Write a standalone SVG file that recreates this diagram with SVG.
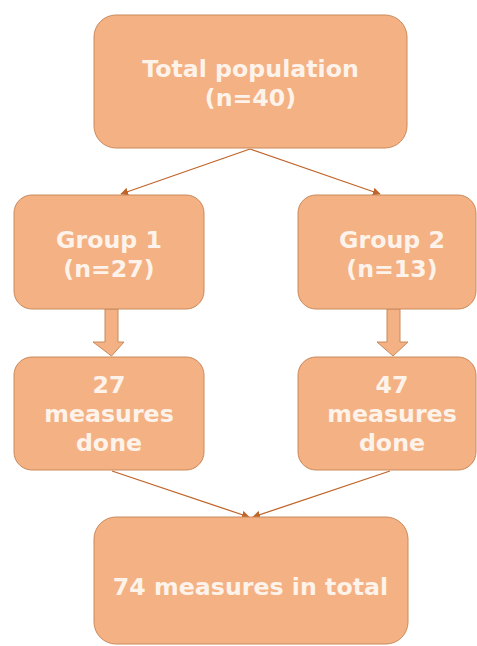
<svg xmlns="http://www.w3.org/2000/svg" width="477" height="646" viewBox="0 0 477 646">
<defs>
<style>
.box{fill:#f4b183;stroke:#c98a5a;stroke-width:1}
.t{font-family:"DejaVu Sans",Verdana,sans-serif;font-weight:bold;font-size:23.7px;fill:#fdf3ea;text-anchor:middle}
.c{stroke:#c0652a;stroke-width:1.3;fill:none;marker-end:url(#ah)}
.fat{fill:#f4b183;stroke:#c98a5a;stroke-width:1}
</style>
<marker id="ah" viewBox="0 0 10 10" refX="9" refY="5" markerWidth="8" markerHeight="8" orient="auto" markerUnits="userSpaceOnUse">
<path d="M0,0 L10,5 L0,10 z" fill="#c0652a"/>
</marker>
</defs>
<rect width="477" height="646" fill="#ffffff"/>
<g id="connectors">
<line class="c" x1="250" y1="149" x2="121" y2="194"/>
<line class="c" x1="250" y1="149" x2="380" y2="194"/>
<line class="c" x1="112" y1="471" x2="249" y2="517"/>
<line class="c" x1="390" y1="471" x2="253" y2="517"/>
<path class="fat" d="M105,309 L118,309 L118,342 L124,342 L111.5,356 L93,342 L105,342 Z"/>
<path class="fat" d="M387,309 L400,309 L400,342 L408,342 L393,356 L377,342 L387,342 Z"/>
</g>
<g id="total">
<rect class="box" x="94" y="15" width="313" height="133" rx="22"/>
<text class="t" x="250.5" y="77">Total population</text>
<text class="t" x="250.5" y="106">(n=40)</text>
</g>
<g id="group1">
<rect class="box" x="14" y="195" width="190" height="114" rx="18"/>
<text class="t" x="109" y="248">Group 1</text>
<text class="t" x="109" y="277">(n=27)</text>
</g>
<g id="group2">
<rect class="box" x="298" y="195" width="178" height="114" rx="18"/>
<text class="t" x="392" y="248">Group 2</text>
<text class="t" x="392" y="277">(n=13)</text>
</g>
<g id="measures1">
<rect class="box" x="14" y="357" width="190" height="113" rx="18"/>
<text class="t" x="109" y="393">27</text>
<text class="t" x="109" y="422">measures</text>
<text class="t" x="109" y="451">done</text>
</g>
<g id="measures2">
<rect class="box" x="298" y="357" width="178" height="113" rx="18"/>
<text class="t" x="392" y="393">47</text>
<text class="t" x="392" y="422">measures</text>
<text class="t" x="392" y="451">done</text>
</g>
<g id="total-measures">
<rect class="box" x="94" y="517" width="314" height="127" rx="22"/>
<text class="t" x="250.5" y="595">74 measures in total</text>
</g>
</svg>
